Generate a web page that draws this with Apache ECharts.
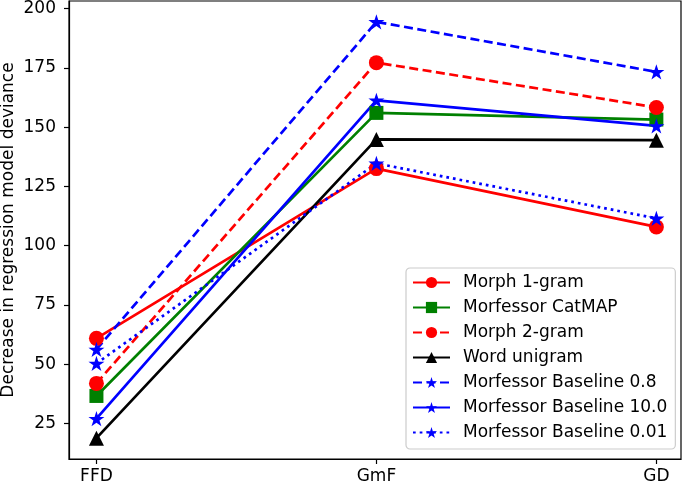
<!DOCTYPE html>
<html>
<head>
<meta charset="utf-8">
<script src="https://cdn.jsdelivr.net/npm/echarts@6/dist/echarts.min.js"></script>
<style>
html,body{margin:0;padding:0;background:#fff;}
#chart{width:685px;height:484px;}
</style>
</head>
<body>
<div id="chart"></div>
<script>
const categories = ['FFD', 'GmF', 'GD'];
const yTicks = [25, 50, 75, 100, 125, 150, 175, 200];
const yLabel = 'Decrease in regression model deviance';

const seriesNames = ['Morph 1-gram', 'Morfessor CatMAP', 'Morph 2-gram', 'Word unigram',
  'Morfessor Baseline 0.8', 'Morfessor Baseline 10.0', 'Morfessor Baseline 0.01'];
const morph1 = [60.9, 132.5, 107.9];
const catmap = [36.6, 156.0, 153.2];
const morph2 = [41.9, 177.2, 158.3];
const wordUni = [18.8, 144.8, 144.5];
const base08 = [56.2, 194.4, 173.3];
const base10 = [27.0, 161.3, 150.5];
const base001 = [50.3, 134.7, 111.5];

const STAR = 'path://M100,0 L122.45,69.1 L195.11,69.1 L136.33,111.8 L158.78,180.9 L100,138.2 L41.22,180.9 L63.67,111.8 L4.89,69.1 L77.55,69.1 Z';
const FONT = 'DejaVu Sans';
const FS = 17;

function mk(name, values, color, type, symbol, size) {
  return {
    name: name,
    type: 'line',
    data: values.map((v, i) => [i, v]),
    symbol: symbol,
    symbolSize: size,
    symbolKeepAspect: true,
    showAllSymbol: true,
    lineStyle: { color: color, width: 2.7, type: type, cap: 'butt' },
    itemStyle: { color: color, borderWidth: 0 },
    emphasis: { disabled: true },
    animation: false
  };
}

const series = [
  mk(seriesNames[0], morph1, '#ff0000', 'solid', 'circle', 15),
  mk(seriesNames[1], catmap, '#008000', 'solid', 'rect', 14),
  mk(seriesNames[2], morph2, '#ff0000', [9, 4.5], 'circle', 15),
  mk(seriesNames[3], wordUni, '#000000', 'solid', 'triangle', 15),
  mk(seriesNames[4], base08, '#0000ff', [9, 4.5], STAR, 16),
  mk(seriesNames[5], base10, '#0000ff', 'solid', STAR, 16),
  mk(seriesNames[6], base001, '#0000ff', [2.7, 4], STAR, 16)
];

const chart = echarts.init(document.getElementById('chart'), null, { renderer: 'canvas' });
chart.setOption({
  backgroundColor: '#fff',
  animation: false,
  textStyle: { fontFamily: FONT },
  grid: {
    left: 69, right: 4, top: 1, bottom: 25,
    containLabel: false,
    outerBoundsMode: 'none',
    show: true, borderColor: '#000', borderWidth: 1.2, backgroundColor: 'transparent'
  },
  legend: {
    orient: 'vertical',
    left: 406, top: 268,
    padding: [5, 8, 7, 6],
    itemWidth: 37, itemHeight: 14, itemGap: 6,
    backgroundColor: '#fff',
    borderColor: '#cccccc', borderWidth: 1.2, borderRadius: 4,
    textStyle: { fontFamily: FONT, fontSize: FS, color: '#000', lineHeight: 19, padding: [0, 0, 0, 8] },
    data: seriesNames
  },
  xAxis: {
    type: 'value',
    min: -0.098, max: 2.088,
    axisLine: { show: true, onZero: false, lineStyle: { color: '#000', width: 1.2 } },
    axisTick: { show: true, customValues: [0, 1, 2], length: 5, lineStyle: { color: '#000', width: 1.2 } },
    axisLabel: {
      customValues: [0, 1, 2],
      formatter: v => categories[Math.round(v)],
      fontFamily: FONT, fontSize: FS, color: '#000', margin: 9
    },
    splitLine: { show: false }
  },
  yAxis: {
    type: 'value',
    min: 10.0, max: 203.2,
    name: yLabel,
    nameLocation: 'middle',
    nameGap: 52,
    nameMoveOverlap: false,
    nameTextStyle: { fontFamily: FONT, fontSize: FS, color: '#000' },
    axisLine: { show: true, onZero: false, lineStyle: { color: '#000', width: 1.2 } },
    axisTick: { show: true, customValues: yTicks, length: 5, lineStyle: { color: '#000', width: 1.2 } },
    axisLabel: {
      customValues: yTicks,
      fontFamily: FONT, fontSize: FS, color: '#000', margin: 13
    },
    splitLine: { show: false }
  },
  series: series
});
</script>
</body>
</html>
